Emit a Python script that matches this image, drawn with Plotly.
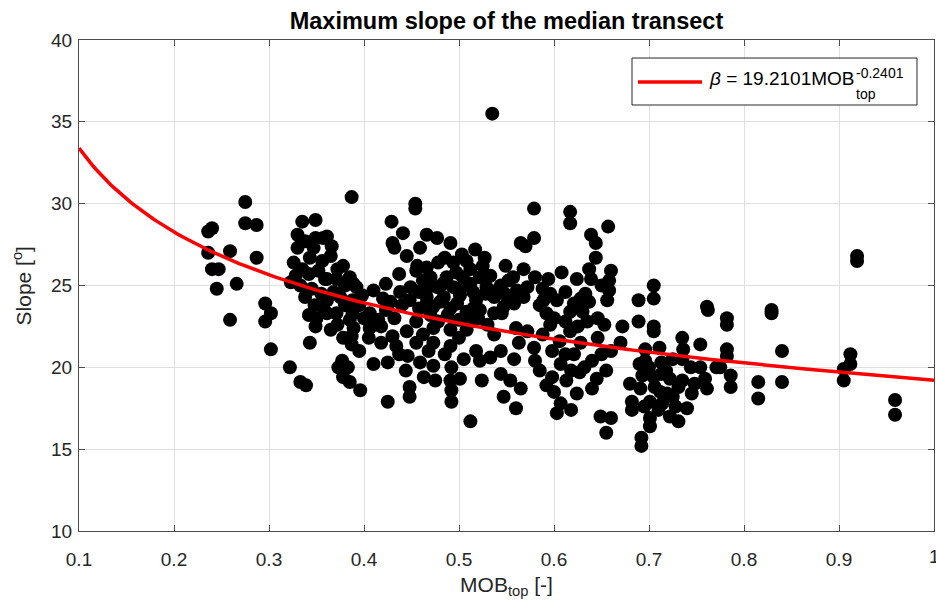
import numpy as np
import plotly.graph_objects as go

# ---- data ----
mob_top = [
    0.275, 0.275, 0.287, 0.240, 0.236, 0.259, 0.236, 0.287, 0.240, 0.247, 0.245, 0.266, 0.259, 0.296, 0.302, 0.296, 0.302,
    0.335, 0.349, 0.330, 0.330, 0.349, 0.357, 0.347, 0.343, 0.356, 0.326, 0.335, 0.328, 0.342, 0.323, 0.359, 0.338, 0.361,
    0.342, 0.350, 0.349, 0.343, 0.322, 0.333, 0.339,
    0.387, 0.454, 0.454, 0.429, 0.441, 0.430, 0.432, 0.459, 0.361, 0.366, 0.378, 0.385, 0.361, 0.371, 0.392, 0.389, 0.410,
    0.423, 0.437, 0.456, 0.449, 0.375, 0.388, 0.361, 0.371, 0.406, 0.423,
    0.388, 0.372, 0.389, 0.406, 0.406, 0.418, 0.387, 0.387, 0.430, 0.418, 0.434, 0.437, 0.446, 0.377, 0.373, 0.383, 0.410,
    0.425, 0.444, 0.378, 0.385, 0.396, 0.448, 0.448, 0.425,
    0.466, 0.477, 0.491, 0.517, 0.527, 0.485, 0.494, 0.508, 0.512, 0.549, 0.565, 0.466, 0.470, 0.487, 0.504, 0.522, 0.557,
    0.477, 0.494, 0.512, 0.529, 0.544, 0.561, 0.466, 0.484, 0.501, 0.518, 0.537, 0.554, 0.473, 0.491, 0.515, 0.547,
    0.466, 0.522, 0.537, 0.558, 0.473, 0.491, 0.508, 0.537, 0.473, 0.491, 0.518, 0.533, 0.544, 0.522, 0.473, 0.492, 0.459,
    0.463, 0.475, 0.491, 0.501, 0.524, 0.544, 0.554, 0.492, 0.547, 0.492, 0.560, 0.512,
    0.470, 0.500, 0.530, 0.455, 0.440, 0.420, 0.560, 0.535,
    0.579, 0.617, 0.617, 0.657, 0.639, 0.579, 0.570, 0.644, 0.644, 0.637, 0.568, 0.608, 0.594, 0.624, 0.639, 0.660, 0.658,
    0.572, 0.658, 0.596, 0.633, 0.568, 0.589, 0.603, 0.621, 0.637, 0.656, 0.592, 0.617, 0.646,
    0.635, 0.653, 0.596, 0.617, 0.572, 0.646, 0.660, 0.579, 0.598, 0.621, 0.640, 0.580, 0.607, 0.655, 0.627, 0.598, 0.613,
    0.592, 0.640, 0.624, 0.607, 0.618, 0.603, 0.649, 0.660, 0.655, 0.565, 0.563, 0.558,
    0.705, 0.705, 0.689, 0.761, 0.689, 0.705, 0.672, 0.762,
    0.705, 0.735, 0.754, 0.696, 0.711, 0.736, 0.670, 0.696, 0.713, 0.744, 0.754, 0.771, 0.693, 0.713, 0.722, 0.759, 0.691,
    0.706, 0.719, 0.731, 0.745, 0.761, 0.701, 0.714, 0.728, 0.682, 0.682, 0.722, 0.731, 0.701, 0.701, 0.692, 0.692,
    0.919, 0.919, 0.829, 0.829, 0.782, 0.782, 0.782, 0.782, 0.840, 0.912, 0.912, 0.905, 0.905, 0.775, 0.786, 0.786, 0.815,
    0.815, 0.840, 0.959, 0.959,
    # denser clusters
    0.445, 0.455, 0.462, 0.478, 0.483, 0.497, 0.503, 0.515, 0.525, 0.533, 0.540, 0.548, 0.552, 0.458, 0.468, 0.480, 0.488,
    0.498, 0.508, 0.520, 0.528, 0.545, 0.505, 0.458, 0.448, 0.438, 0.428, 0.432, 0.445, 0.462, 0.478, 0.513, 0.500, 0.485,
    0.505, 0.468, 0.455,
    0.338, 0.352, 0.365, 0.372, 0.380, 0.368, 0.355, 0.345, 0.333, 0.348, 0.358, 0.380, 0.395, 0.398, 0.385, 0.365, 0.378,
    0.395, 0.405, 0.415, 0.400,
    0.585, 0.600, 0.612, 0.625, 0.630, 0.606, 0.588, 0.628, 0.650, 0.585, 0.612, 0.632, 0.645, 0.618, 0.600, 0.580, 0.588,
    0.612, 0.650, 0.628,
    0.700, 0.705, 0.712, 0.718, 0.725, 0.735, 0.740, 0.690, 0.710, 0.695, 0.725, 0.748, 0.680, 0.735,
]
slope = [
    30.1, 28.8, 28.7, 28.5, 28.3, 27.1, 27.0, 26.7, 26.0, 26.0, 24.8, 25.1, 22.9, 23.9, 23.3, 22.8, 21.1,
    28.9, 29.0, 28.1, 27.3, 27.9, 27.9, 27.3, 26.7, 26.5, 26.4, 26.0, 25.6, 25.7, 25.2, 25.4, 24.3, 24.1,
    23.2, 23.0, 22.5, 21.5, 20.0, 19.1, 18.9,
    30.4, 30.0, 29.7, 28.9, 28.2, 27.6, 27.3, 27.3, 28.0, 27.4, 26.2, 25.5, 25.4, 25.4, 24.9, 25.1, 24.7,
    25.1, 25.7, 26.2, 24.9, 24.3, 24.1, 23.3, 23.3, 23.3, 23.5,
    23.3, 22.6, 22.4, 23.0, 22.4, 22.5, 21.9, 21.4, 21.9, 21.5, 21.3, 20.8, 20.7, 20.4, 20.0, 20.0, 20.2,
    20.3, 19.8, 19.4, 19.1, 18.6, 18.8, 18.2, 17.9,
    28.1, 27.9, 27.6, 27.2, 26.7, 26.7, 26.4, 26.5, 26.0, 26.2, 27.6, 26.1, 25.5, 25.5, 25.5, 25.5, 25.5,
    24.9, 24.9, 25.1, 24.9, 25.0, 24.7, 24.3, 24.3, 24.4, 24.1, 24.3, 24.1, 23.7, 23.6, 23.6, 23.7,
    23.9, 23.5, 23.3, 23.9, 22.4, 22.3, 22.3, 22.0, 21.5, 21.3, 21.0, 20.6, 21.0, 20.4, 20.1, 20.0, 20.3,
    19.4, 19.2, 19.2, 19.3, 19.2, 19.6, 19.2, 18.6, 18.2, 17.9, 17.5, 16.7,
    23.2, 22.9, 22.6, 22.8, 23.8, 24.2, 22.4, 35.5,
    29.7, 29.5, 28.8, 28.6, 28.1, 27.9, 27.4, 27.6, 26.7, 26.0, 26.0, 25.8, 25.4, 25.4, 25.4, 25.9, 25.3,
    24.9, 24.7, 24.5, 24.5, 24.3, 24.1, 24.1, 23.9, 24.0, 24.1, 23.3, 23.4, 23.0,
    22.8, 22.6, 22.6, 22.2, 22.2, 21.8, 21.0, 21.2, 21.0, 20.8, 20.4, 20.4, 20.2, 19.8, 19.7, 19.4, 19.2,
    18.9, 18.7, 18.4, 17.8, 17.4, 17.2, 17.0, 16.9, 16.0, 18.7, 21.5, 20.5,
    25.0, 24.2, 24.1, 23.7, 22.8, 22.5, 22.5, 23.5,
    22.2, 21.8, 21.4, 21.1, 21.2, 21.1, 21.5, 20.4, 20.3, 20.0, 20.0, 20.0, 19.5, 19.6, 19.3, 19.3, 18.7,
    18.8, 18.4, 18.8, 18.4, 18.7, 17.9, 17.8, 17.6, 17.9, 17.4, 17.0, 16.7, 16.9, 16.4, 15.7, 15.2,
    26.8, 26.5, 23.5, 23.3, 23.0, 22.6, 21.1, 20.7, 21.0, 20.8, 20.2, 19.9, 19.2, 20.0, 19.5, 18.8, 19.1,
    18.1, 19.1, 18.0, 17.1,
    # denser clusters
    26.8, 25.9, 25.3, 26.4, 25.1, 25.8, 26.9, 24.6, 26.2, 25.6, 24.7, 24.5, 25.3, 24.6, 24.9, 24.0, 23.2,
    23.9, 23.4, 23.0, 24.5, 23.3, 25.0, 23.6, 24.1, 24.6, 24.0, 23.0, 22.2, 22.0, 22.8, 22.8, 21.8, 20.8,
    20.5, 21.0, 21.5,
    27.7, 25.9, 26.8, 26.0, 25.0, 24.6, 24.5, 24.8, 25.0, 23.8, 23.5, 23.8, 23.8, 24.4, 22.9, 22.3, 21.8,
    21.0, 21.8, 22.9, 23.0,
    23.8, 23.0, 22.8, 22.5, 23.4, 21.6, 22.0, 21.5, 20.8, 19.8, 20.8, 20.0, 19.3, 19.8, 18.5, 25.5, 24.8,
    24.6, 25.0, 24.2,
    20.0, 19.4, 18.5, 19.8, 18.2, 19.2, 17.5, 20.2, 17.4, 17.6, 20.5, 19.0, 19.0, 20.5,
]
fit_coef = 19.2101
fit_exp = -0.2401
x_ticks = [0.1, 0.2, 0.3, 0.4, 0.5, 0.6, 0.7, 0.8, 0.9]
x_tick_labels = ["0.1", "0.2", "0.3", "0.4", "0.5", "0.6", "0.7", "0.8", "0.9"]
x_last_tick = 1.0
x_last_label = "1"
y_ticks = [10, 15, 20, 25, 30, 35, 40]

FONT = "Arial, 'Liberation Sans', Helvetica, sans-serif"
AX = "#262626"

x_fit = np.linspace(0.1, 1.0, 300)
y_fit = fit_coef * x_fit ** fit_exp

fig = go.Figure()
fig.add_trace(go.Scatter(
    x=mob_top, y=slope, mode="markers",
    marker=dict(size=14, color="black", line=dict(width=0)),
    showlegend=False, hoverinfo="x+y",
))
fig.add_trace(go.Scatter(
    x=x_fit, y=y_fit, mode="lines",
    line=dict(color="#ff0000", width=3.5),
    showlegend=False,
))

axis_common = dict(
    showline=True, linecolor="#4d4d4d", linewidth=1, mirror="ticks",
    ticks="inside", ticklen=6, tickcolor="#4d4d4d",
    showgrid=True, gridcolor="#e0e0e0", gridwidth=1, automargin=False,
    zeroline=False, tickfont=dict(family=FONT, size=19, color=AX),
)

fig.update_layout(
    width=936, height=606,
    margin=dict(l=79, r=2, t=40, b=75, autoexpand=False),
    paper_bgcolor="white", plot_bgcolor="white",
    font=dict(family=FONT, color=AX),
    title=dict(
        text="<b>Maximum slope of the median transect</b>",
        font=dict(family=FONT, size=23.5, color="black"),
        x=0.5, xref="paper", xanchor="center",
        y=1 - 21 / 606, yref="container", yanchor="middle",
    ),
    xaxis=dict(
        range=[0.1, 1.0], tickvals=x_ticks, ticktext=x_tick_labels, ticklabelstandoff=11,
        title=dict(text="MOB<sub>top</sub> [-]", font=dict(family=FONT, size=21, color=AX), standoff=8),
        **axis_common,
    ),
    yaxis=dict(
        range=[10, 40], tickvals=y_ticks, ticklabelstandoff=2,
        **axis_common,
    ),
)

# last x tick label sits on the right edge
fig.add_annotation(xref="x", yref="paper", x=x_last_tick, y=0, yanchor="top", yshift=-13,
                   showarrow=False, text=x_last_label, font=dict(family=FONT, size=19, color=AX))
# y axis title
fig.add_annotation(xref="paper", yref="paper", x=-0.0667, y=0.5, xanchor="center", yanchor="middle",
                   textangle=-90, showarrow=False, text="Slope [<sup>o</sup>]",
                   font=dict(family=FONT, size=21, color=AX))

# legend box drawn to MATLAB style (stacked super/subscript)
fig.add_shape(type="rect", xref="paper", yref="paper",
              x0=0.6468, x1=0.9801, y0=0.8676, y1=0.9633,
              line=dict(color="#262626", width=1), fillcolor="white", layer="above")
fig.add_shape(type="line", xref="paper", yref="paper",
              x0=0.6538, x1=0.7287, y0=0.9145, y1=0.9145,
              line=dict(color="#ff0000", width=3.5), layer="above")
fig.add_annotation(xref="paper", yref="paper", x=0.735, y=0.9216,
                   xanchor="left", yanchor="middle", showarrow=False,
                   text="<i>β</i> = 19.2101MOB", font=dict(family=FONT, size=19, color="black"))
fig.add_annotation(xref="paper", yref="paper", x=0.906, y=0.932,
                   xanchor="left", yanchor="middle", showarrow=False,
                   text="-0.2401", font=dict(family=FONT, size=14, color="black"))
fig.add_annotation(xref="paper", yref="paper", x=0.906, y=0.890,
                   xanchor="left", yanchor="middle", showarrow=False,
                   text="top", font=dict(family=FONT, size=14, color="black"))

# remove the browser's default 8px body margin so the 936x606 figure fills the window
fig.write_html(
    "out.html",
    config={"displayModeBar": False},
    post_script="document.body.style.margin='0';document.body.style.overflow='hidden';",
)
